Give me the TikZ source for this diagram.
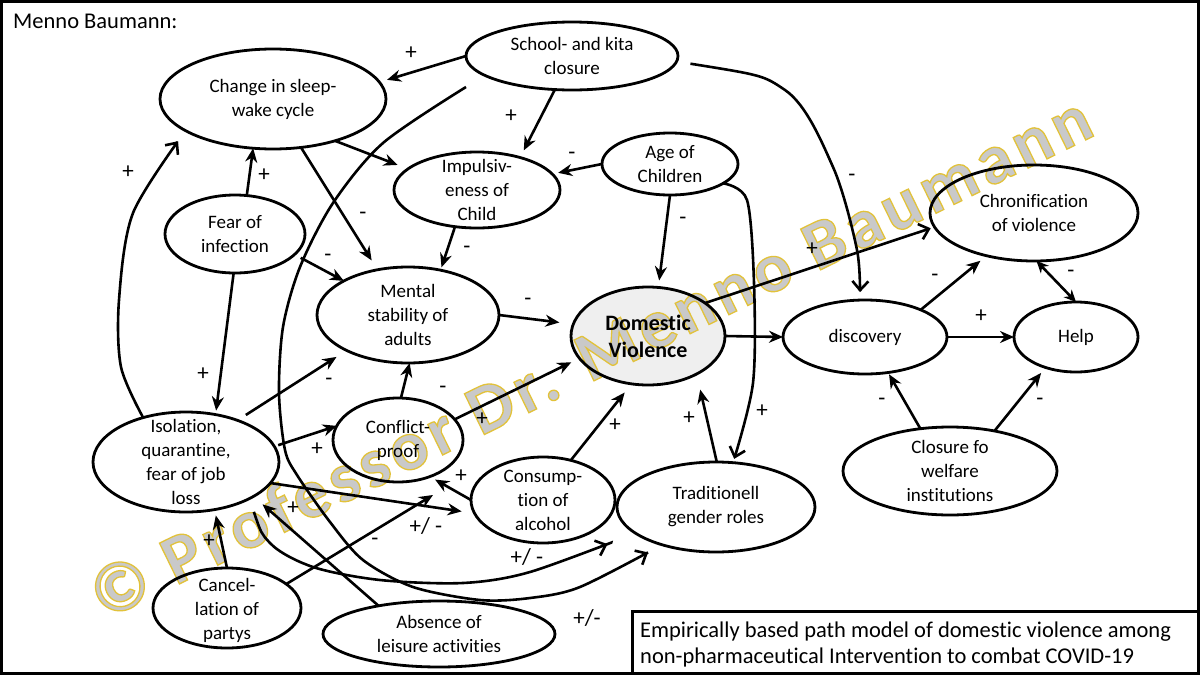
\documentclass[tikz,border=0pt]{standalone}
\usepackage{fontspec}
\setmainfont{Carlito}[Ligatures=NoCommon]
\newfontfamily\wmfont[LetterSpace=8]{Carlito}
\usetikzlibrary{shapes.geometric,arrows.meta,calc}
\definecolor{wmgray}{HTML}{C9C9C9}
\definecolor{wmgold}{HTML}{E2C23A}
\definecolor{dvfill}{HTML}{EFEFEF}
\newcommand\wmtxt{\wmfont\bfseries\fontsize{70}{70}\selectfont ©~Professor Dr. Menno Baumann}
\begin{document}
\begin{tikzpicture}[x=1pt,y=-1pt,
  ell/.style={draw, ellipse, line width=2.8pt, inner sep=0pt, outer sep=0pt},
  txt/.style={align=center, inner sep=0pt, font=\fontsize{19}{24}\selectfont},
  lab/.style={inner sep=0pt, font=\fontsize{23}{26}\selectfont},
  arr/.style={line width=2.6pt, -{Stealth[length=14pt,width=12pt]}},
  barb/.style={line width=2.6pt, -{Straight Barb[length=9pt,width=16pt]}},
  dbl/.style={line width=2.6pt, {Stealth[length=12pt,width=11pt]}-{Stealth[length=12pt,width=11pt]}},
]
\useasboundingbox (0,0) rectangle (1200,675);
\fill[white] (0,0) rectangle (1200,675);
\draw[line width=3pt] (1.5,1.5) rectangle (1198.5,673.5);

% fill of the central node, below the watermark
\fill[dvfill] (648,336) ellipse [x radius=77pt, y radius=49pt];

% watermark: grey letters with a golden outline (text render mode 2)
\node[text=wmgray, rotate=26.1, inner sep=0pt] (wm) at (590,356)
  {\special{pdf:literal direct 0.886 0.761 0.227 RG 1.3 w 2 Tr}\wmtxt\special{pdf:literal direct 0 Tr 0 0 0 RG}};

% title
\node[anchor=base west, inner sep=0pt, font=\fontsize{22.5}{26}\selectfont] (title) at (13,28) {Menno Baumann:};

% nodes
\node[ell, minimum width=226pt, minimum height=100pt] (sleep) at (273,99) {};
\node[txt] (sleepT) at (sleep.center) {Change in sleep-\\wake cycle};
\node[ell, minimum width=212pt, minimum height=68pt] (school) at (572,56) {};
\node[txt] (schoolT) at (school.center) {School- and kita\\closure};
\node[ell, minimum width=166pt, minimum height=76pt] (imp) at (477,190) {};
\node[txt] (impT) at (imp.center) {Impulsiv-\\eness of\\Child};
\node[ell, minimum width=136pt, minimum height=62pt] (age) at (670,164) {};
\node[txt] (ageT) at (age.center) {Age of\\Children};
\node[ell, minimum width=140pt, minimum height=78pt] (fear) at (235,234) {};
\node[txt] (fearT) at (fear.center) {Fear of\\infection};
\node[ell, minimum width=182pt, minimum height=96pt] (mental) at (408,315) {};
\node[txt] (mentalT) at (mental.center) {Mental\\stability of\\adults};
\node[ell, minimum width=154pt, minimum height=98pt] (dv) at (648,336) {};
\node[txt, font=\bfseries\fontsize{22}{27}\selectfont] (dvT) at (dv.center) {Domestic\\Violence};
\node[ell, minimum width=164pt, minimum height=74pt] (disc) at (865,337) {};
\node[txt] (discT) at (disc.center) {discovery};
\node[ell, minimum width=208pt, minimum height=96pt] (chron) at (1034,213) {};
\node[txt] (chronT) at (chron.center) {Chronification\\of violence};
\node[ell, minimum width=124pt, minimum height=70pt] (help) at (1076,337) {};
\node[txt] (helpT) at (help.center) {Help};
\node[ell, minimum width=214pt, minimum height=88pt] (closure) at (950,471) {};
\node[txt] (closureT) at (closure.center) {Closure fo\\welfare\\institutions};
\node[ell, minimum width=198pt, minimum height=90pt] (trad) at (716,507) {};
\node[txt] (tradT) at (trad.center) {Traditionell\\gender roles};
\node[ell, minimum width=144pt, minimum height=86pt] (cons) at (543,500) {};
\node[txt] (consT) at (cons.center) {Consump-\\tion of\\alcohol};
\node[ell, minimum width=130pt, minimum height=84pt] (conf) at (398,440) {};
\node[txt] (confT) at (conf.center) {Conflict-\\proof};
\node[ell, minimum width=186pt, minimum height=100pt] (iso) at (186,462) {};
\node[txt] (isoT) at (iso.center) {Isolation,\\quarantine,\\fear of job\\loss};
\node[ell, minimum width=148pt, minimum height=80pt] (cancel) at (227,608) {};
\node[txt] (cancelT) at ([yshift=-2pt]cancel.center) {Cancel-\\lation of\\partys};
\node[ell, minimum width=232pt, minimum height=66pt] (absence) at (439,634) {};
\node[txt] (absenceT) at (absence.center) {Absence of\\leisure activities};

% caption
\node[draw, line width=2.6pt, anchor=north west, minimum width=567pt, minimum height=64pt, inner sep=0pt] (capbox) at (631,610) {};
\node[anchor=base west, inner sep=0pt, font=\fontsize{22.5}{26}\selectfont] (cap1) at (640,637) {Empirically based path model of domestic violence among};
\node[anchor=base west, inner sep=0pt, font=\fontsize{22.5}{26}\selectfont] (cap2) at (640,663) {non-pharmaceutical Intervention to combat COVID-19};

% free ends
\coordinate (k3) at (466,87);
\coordinate (k26) at (433,495);

% connectors
\draw[arr, shorten >=8pt] (school.180) -- (sleep.9);
\draw[arr, shorten >=8pt] (school.243) -- (imp.37);
\draw[barb, shorten >=16pt] plot[smooth] coordinates {(k3) (383,143) (333,203) (300,267) (283,327) (279,393) (285,450) (297,475) (330,522) (363,560) (413,587) (480,600) (530,598) (580,587) (trad.215)};
\draw[barb, shorten <=14pt, shorten >=8pt] plot[smooth] coordinates {(school.357) (785,90) (833,167) (857,250) (disc.98)};
\draw[arr, shorten >=11pt] (sleep.326) -- (imp.163);
\draw[arr, shorten >=11pt] (sleep.300) -- (mental.124);
\draw[arr] (fear.73) -- (sleep.248);
\draw[arr, shorten <=7pt] (fear.341) -- (mental.152);
\draw[arr, shorten >=4pt] (fear.268) -- (iso.58);
\draw[barb, shorten >=13pt] plot[smooth] coordinates {(iso.134) (121,367) (119,300) (133,213) (sleep.200)};
\draw[arr, shorten >=6pt] (age.180) -- (imp.12);
\draw[arr, shorten >=7pt] (age.270) -- (dv.78);
\draw[barb, shorten >=4pt] plot[smooth] coordinates {(age.340) (747,200) (754,283) (753,383) (trad.69)};
\draw[arr, shorten >=3pt] (imp.239) -- (mental.54);
\draw[arr, shorten >=14pt] (mental.0) -- (dv.171);
\draw[arr, shorten <=10pt, shorten >=12pt] (iso.39) -- (mental.210);
\draw[arr, shorten <=4pt] (iso.10) -- (conf.167);
\draw[arr, shorten >=13pt] (iso.346) -- (cons.191);
\draw[barb, shorten <=14pt, shorten >=30pt] plot[smooth] coordinates {(iso.330) (270,543) (313,567) (380,580) (463,583) (530,572) (trad.198)};
\draw[arr] (conf.86) -- (mental.272);
\draw[arr, shorten >=9pt] (conf.20) -- (dv.198);
\draw[arr, shorten >=6pt] (cons.180) -- (conf.311);
\draw[arr, shorten >=11pt] (cons.55) -- (dv.251);
\draw[arr, shorten >=16pt] (trad.89) -- (dv.322);
\draw[arr, shorten >=6pt] (cancel.90) -- (iso.301);
\draw[arr] (cancel.22) -- (k26);
\draw[arr, shorten >=12pt] (absence.155) -- (iso.333);
\draw[arr] (dv.0) -- (disc.180);
\draw[barb, shorten >=4pt] (dv.30) -- (chron.188);
\draw[arr, shorten >=8pt] (disc.26) -- (chron.222);
\draw[arr] (disc.0) -- (help.180);
\draw[dbl] (chron.273) -- (help.90);
\draw[arr, shorten >=2pt] (closure.125) -- (disc.303);
\draw[arr, shorten >=7pt] (closure.42) -- (help.225);

% signs
\node[lab] (l1) at (411,53) {+};
\node[lab] (l2) at (511,116) {+};
\node[lab] (l3) at (587,618) {+/-};
\node[lab] (l4) at (852,178) {-};
\node[lab] (l6) at (363,216) {-};
\node[lab] (l7) at (264,175) {+};
\node[lab] (l8) at (328,258) {-};
\node[lab] (l9) at (203,374) {+};
\node[lab] (l10) at (128,172) {+};
\node[lab] (l11) at (572,156) {-};
\node[lab] (l12) at (683,221) {-};
\node[lab] (l13) at (762,411) {+};
\node[lab] (l14) at (467,250) {-};
\node[lab] (l15) at (528,302) {-};
\node[lab] (l16) at (329,382) {-};
\node[lab] (l17) at (317,449) {+};
\node[lab] (l18) at (426,526) {+/ -};
\node[lab] (l19) at (527,557) {+/ -};
\node[lab] (l20) at (443,390) {-};
\node[lab] (l21) at (482,419) {+};
\node[lab] (l22) at (461,476) {+};
\node[lab] (l23) at (615,425) {+};
\node[lab] (l24) at (689,418) {+};
\node[lab] (l25) at (209,541) {+};
\node[lab] (l26) at (375,542) {-};
\node[lab] (l27) at (293,508) {+};
\node[lab] (l29) at (812,249) {+};
\node[lab] (l30) at (935,278) {-};
\node[lab] (l31) at (981,316) {+};
\node[lab] (l32) at (1071,274) {-};
\node[lab] (l33) at (882,402) {-};
\node[lab] (l34) at (1040,402) {-};
\end{tikzpicture}
\end{document}
